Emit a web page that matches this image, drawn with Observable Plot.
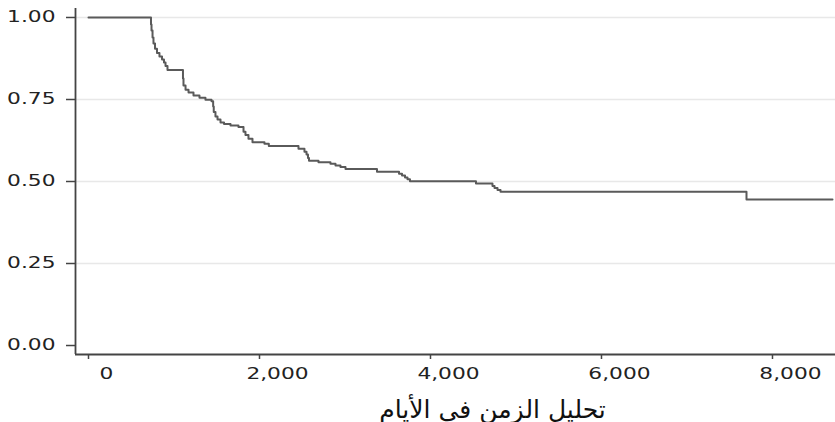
<!DOCTYPE html>
<html><head><meta charset="utf-8">
<script src="https://cdn.jsdelivr.net/npm/d3@7"></script>
<script src="https://cdn.jsdelivr.net/npm/@observablehq/plot@0.6"></script>
<style>body{margin:0;background:#fff}</style>
</head><body><div id="chart"></div>
<script>
// Kaplan–Meier step times (days) and survival after each drop
const times = [0, 731, 737, 749, 760, 778, 801, 830, 860, 883, 901, 924,
  1105, 1111, 1135, 1170, 1228, 1298, 1368, 1439, 1458, 1465, 1485, 1509, 1544, 1585,
  1661, 1754, 1813, 1836, 1871, 1918, 2058, 2109, 2456, 2526, 2550, 2567, 2579, 2690,
  2830, 2889, 2947, 3006, 3374, 3632, 3667, 3702, 3731, 3760, 4532, 4725, 4749, 4784,
  4819, 7696];
const survival = [1, 0.979, 0.960, 0.939, 0.921, 0.905, 0.892, 0.881, 0.872, 0.863, 0.852, 0.840,
  0.814, 0.793, 0.780, 0.771, 0.762, 0.755, 0.749, 0.745, 0.729, 0.712, 0.698, 0.689, 0.680, 0.675,
  0.671, 0.666, 0.652, 0.642, 0.630, 0.620, 0.615, 0.608, 0.600, 0.591, 0.582, 0.572, 0.563, 0.559,
  0.554, 0.549, 0.544, 0.538, 0.530, 0.524, 0.518, 0.512, 0.507, 0.501, 0.494, 0.486, 0.480, 0.474,
  0.469, 0.445];
const endTime = 8702;
const xTicks = [0, 2000, 4000, 6000, 8000];
const yTicks = [0, 0.25, 0.5, 0.75, 1];
const xLabel = "تحليل الزمن فى الأيام";

const xDomain = [-152, 8737];
const yDomain = [-0.0274, 1.0274];

const data = times.map((t, i) => ({t, s: survival[i]}));
data.push({t: endTime, s: survival[survival.length - 1]});

const axisColor = "#444";

const chart = Plot.plot({
  width: 835, height: 422,
  marginLeft: 75, marginRight: 0, marginTop: 8, marginBottom: 68,
  x: {domain: xDomain},
  y: {domain: yDomain},
  style: {fontFamily: "DejaVu Sans", fontSize: "15px", color: "#222", background: "#fff"},
  marks: [
    Plot.gridY(yTicks.filter(v => v > 0), {stroke: "#e8e8e8", strokeOpacity: 1, strokeWidth: 1.5}),
    Plot.line(data, {x: "t", y: "s", curve: "step-after", stroke: "#5a5a5a", strokeWidth: 2}),
    Plot.ruleX([xDomain[0]], {stroke: axisColor, strokeWidth: 1.8}),
    Plot.ruleY([yDomain[0]], {stroke: axisColor, strokeWidth: 1.8}),
    Plot.axisY({ticks: yTicks, tickFormat: d3.format(".2f"), tickSize: 9, tickPadding: 11,
      label: null, stroke: axisColor, fill: "#222", strokeWidth: 1.5}),
    Plot.axisX({ticks: xTicks, tickFormat: d3.format(","), tickSize: 5, tickPadding: 9,
      label: null, stroke: axisColor, fill: "#222", strokeWidth: 1.5}),
    Plot.text([xLabel], {text: d => d, frameAnchor: "bottom", lineAnchor: "bottom", dy: 63, dx: 37,
      fontSize: 25, fill: "#111", fontFamily: "DejaVu Sans"})
  ]
});

// horizontal stretch of tick labels to match the reference's wide glyphs
const sel = d3.select(chart);
sel.selectAll('[aria-label="y-axis tick label"] text').each(function() {
  const t = this.getAttribute("transform") || "";
  this.setAttribute("transform", t + " scale(1.45,1)");
});
sel.selectAll('[aria-label="x-axis tick label"] text').each(function() {
  const t = this.getAttribute("transform") || "";
  this.setAttribute("transform", t + " scale(1.45,1)");
  this.setAttribute("x", 18 / 1.45);
});
document.getElementById("chart").append(chart);
</script>
</body></html>
